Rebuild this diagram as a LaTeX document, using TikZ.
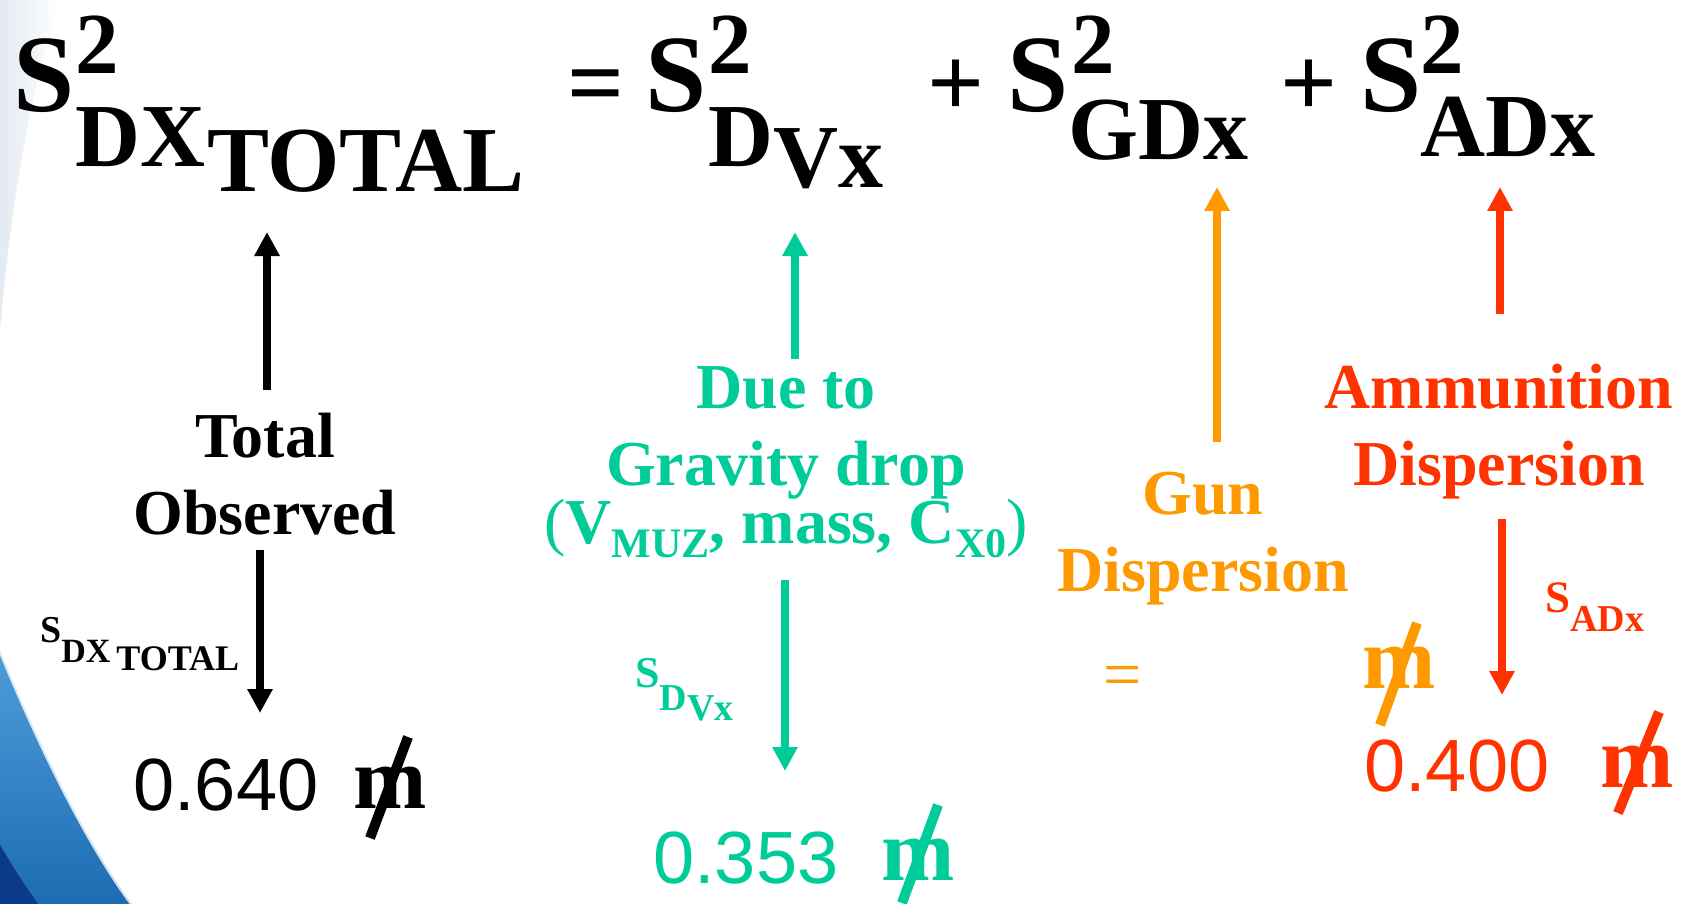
\documentclass[tikz,border=0pt]{standalone}
\usepackage{fontspec}
\setmainfont{Liberation Serif}
\newfontfamily\numfont{Liberation Sans}
\usetikzlibrary{arrows.meta}
\definecolor{fgText}{HTML}{000000}
\definecolor{gravLine}{HTML}{00CC99}
\definecolor{gunLine}{HTML}{FF9900}
\definecolor{ammoLine}{HTML}{FF3300}
\definecolor{swooshTop}{HTML}{4E9DDA}
\definecolor{swooshBot}{HTML}{1D6CB3}
\definecolor{swooshDark}{HTML}{0B3A8A}
\definecolor{washGray}{HTML}{E3EAF1}

\begin{document}
\begin{tikzpicture}[
    x=1pt, y=-1pt,
    bigS/.style={font=\fontsize{110}{110}\selectfont\bfseries, anchor=base west, inner sep=0},
    supTwo/.style={font=\fontsize{87}{87}\selectfont\bfseries, anchor=base west, inner sep=0},
    subTxt/.style={font=\fontsize{90}{90}\selectfont\bfseries, anchor=base west, inner sep=0},
    opSign/.style={font=\fontsize{100}{100}\selectfont\bfseries, anchor=base, inner sep=0},
    causeTxt/.style={font=\fontsize{64}{77}\selectfont\bfseries, align=center, anchor=north, inner sep=0},
    sLbl/.style={anchor=base west, inner sep=0, font=\bfseries},
    valTxt/.style={font=\fontsize{74}{74}\selectfont\numfont, anchor=base west, inner sep=0},
    unitM/.style={font=\fontsize{88}{88}\selectfont\bfseries, anchor=base west, inner sep=0},
    slashLn/.style={line width=10pt},
    arr/.style={line width=8pt, -{Triangle[width=24pt,length=24pt]}},
  ]

  % BACKGROUND
  \useasboundingbox (0,0) rectangle (1689,904);
  \fill[white] (0,0) rectangle (1689,904);
  \shade[left color=washGray, right color=white] (0,0) -- (60,0) .. controls (25,110) and (10,220) .. (0,330) -- cycle;
  \shade[top color=swooshTop, bottom color=swooshBot] (0,650) .. controls (45,760) and (92,850) .. (132,904) -- (0,904) -- cycle;
  \fill[swooshDark] (0,845) .. controls (18,875) .. (38,904) -- (0,904) -- cycle;
  \draw[white, line width=4pt, opacity=0.8] (0,650) .. controls (45,760) and (92,850) .. (132,904);

  % EQUATION
  \node[bigS]   (t1s)   at (13,112)  {S};
  \node[supTwo] (t1sup) at (75,74)   {2};
  \node[subTxt] (t1sub) at (75,167)  {DX\hspace{2pt}\raisebox{-25pt}{\fontsize{93}{93}\selectfont TOTAL}};
  \node[opSign] (eqSgn) at (596,117) {=};
  \node[bigS]   (t2s)   at (645,112) {S};
  \node[supTwo] (t2sup) at (708,74)  {2};
  \node[subTxt] (t2sub) at (708,167) {D\raisebox{-21pt}{Vx}};
  \node[opSign] (plus1) at (956,117) {+};
  \node[bigS]   (t3s)   at (1007,112) {S};
  \node[supTwo] (t3sup) at (1071,74) {2};
  \node[subTxt] (t3sub) at (1068,160) {GDx};
  \node[opSign] (plus2) at (1309,117) {+};
  \node[bigS]   (t4s)   at (1360,112) {S};
  \node[supTwo] (t4sup) at (1420,74) {2};
  \node[subTxt] (t4sub) at (1420,157) {ADx};

  % TOTAL OBSERVED
  \node[causeTxt] (totLbl) at (265,413) {Total\\ Observed};
  \node[sLbl] (totS) at (40,642) {\fontsize{38}{38}\selectfont S\fontsize{34}{34}\selectfont\raisebox{-20pt}{DX}\hspace{6pt}\fontsize{36}{36}\selectfont\raisebox{-28pt}{TOTAL}};
  \node[valTxt] (totVal) at (133,810) {0.640};
  \node[unitM] (totM) at (353,808) {m};
  \draw[slashLn] ([shift={(17,30)}]totM.base west) -- ++(38,-101);
  \coordinate (totUpA) at (267,390);
  \coordinate (totUpB) at (267,232);
  \coordinate (totDnA) at (260,550);
  \coordinate (totDnB) at (260,713);
  \draw[arr] (totUpA) -- (totUpB);
  \draw[arr] (totDnA) -- (totDnB);

  % GRAVITY DROP
  \begin{scope}[gravLine]
  \node[causeTxt, text=gravLine] (gravLbl) at (786,366) {Due to\\ Gravity drop\\[-19pt]
    {\mdseries(}V{\fontsize{42}{42}\selectfont\raisebox{-14pt}{MUZ}}, mass, C{\fontsize{42}{42}\selectfont\raisebox{-14pt}{X0}}{\mdseries)}};
  \node[sLbl, text=gravLine] (gravS) at (635,687) {\fontsize{44}{44}\selectfont S\fontsize{38}{38}\selectfont\raisebox{-23pt}{D}\raisebox{-33pt}{Vx}};
  \node[valTxt, text=gravLine] (gravVal) at (653,883) {0.353};
  \node[unitM, text=gravLine] (gravM) at (881,880) {m};
  \draw[slashLn] ([shift={(21,23)}]gravM.base west) -- ++(36,-98);
  \coordinate (gravUpA) at (795,359);
  \coordinate (gravUpB) at (795,232);
  \coordinate (gravDnA) at (785,580);
  \coordinate (gravDnB) at (785,771);
  \draw[arr] (gravUpA) -- (gravUpB);
  \draw[arr] (gravDnA) -- (gravDnB);
  \end{scope}

  % GUN DISPERSION
  \begin{scope}[gunLine]
  \node[causeTxt, text=gunLine] (gunLbl) at (1203,472) {Gun\\ Dispersion};
  \node[font=\fontsize{68}{68}\selectfont, anchor=base, inner sep=0, text=gunLine] (gunEq) at (1123,697) {=};
  \node[unitM, text=gunLine] (gunM) at (1362,688) {m};
  \draw[slashLn] ([shift={(18,37)}]gunM.base west) -- ++(37,-102);
  \coordinate (gunUpA) at (1217,442);
  \coordinate (gunUpB) at (1217,187);
  \draw[arr] (gunUpA) -- (gunUpB);
  \end{scope}

  % AMMUNITION DISPERSION
  \begin{scope}[ammoLine]
  \node[causeTxt, text=ammoLine] (ammoLbl) at (1499,364) {Ammunition\\ Dispersion};
  \node[sLbl, text=ammoLine] (ammoS) at (1545,612) {\fontsize{45}{45}\selectfont S\fontsize{38}{38}\selectfont\raisebox{-19pt}{ADx}};
  \node[valTxt, text=ammoLine] (ammoVal) at (1364,791) {0.400};
  \node[unitM, text=ammoLine] (ammoM) at (1600,787) {m};
  \draw[slashLn] ([shift={(18,26)}]ammoM.base west) -- ++(41,-101);
  \coordinate (ammoUpA) at (1500,314);
  \coordinate (ammoUpB) at (1500,187);
  \coordinate (ammoDnA) at (1502,519);
  \coordinate (ammoDnB) at (1502,695);
  \draw[arr] (ammoUpA) -- (ammoUpB);
  \draw[arr] (ammoDnA) -- (ammoDnB);
  \end{scope}

\end{tikzpicture}
\end{document}
